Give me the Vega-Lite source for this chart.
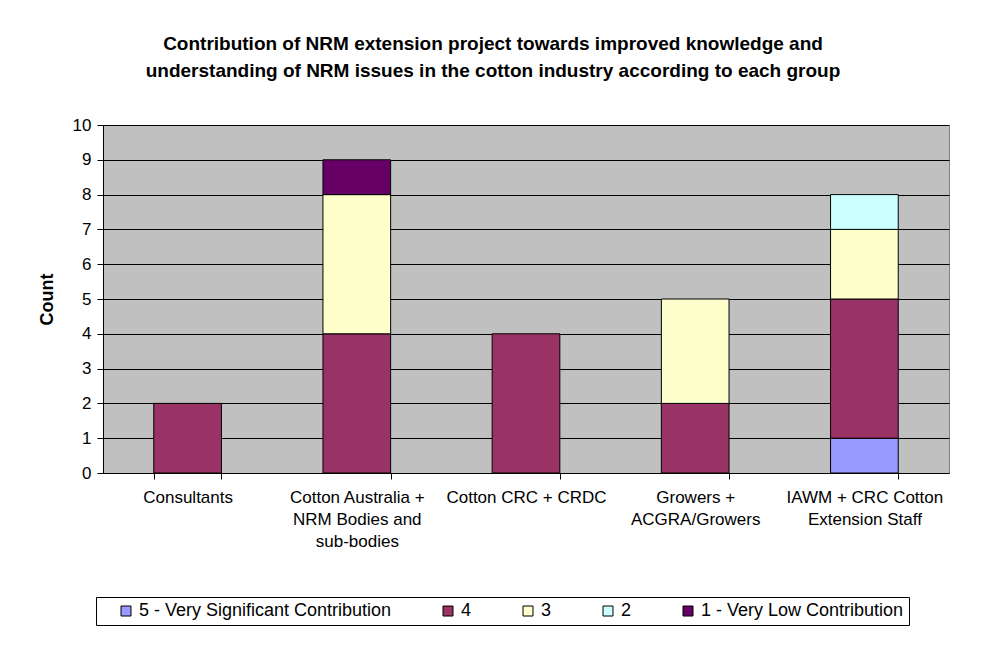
{
  "$schema": "https://vega.github.io/schema/vega-lite/v6.json",
  "autosize": {"type": "none"},
  "width": 846,
  "height": 348,
  "padding": {"left": 103, "top": 125, "right": 32, "bottom": 180},
  "background": "white",
  "title": {
    "text": ["Contribution of NRM extension project towards improved knowledge and", "understanding of NRM issues in the cotton industry according to each group"],
    "font": "Liberation Sans",
    "fontSize": 19,
    "fontWeight": "bold",
    "color": "black",
    "anchor": "middle",
    "dx": -33,
    "offset": 35,
    "lineHeight": 27
  },
  "data": {
    "values": [
      {"group": "Consultants", "level": "4", "score": 4, "count": 2},
      {"group": "Cotton Australia + NRM Bodies and sub-bodies", "level": "4", "score": 4, "count": 4},
      {"group": "Cotton Australia + NRM Bodies and sub-bodies", "level": "3", "score": 3, "count": 4},
      {"group": "Cotton Australia + NRM Bodies and sub-bodies", "level": "1 - Very Low Contribution", "score": 1, "count": 1},
      {"group": "Cotton CRC + CRDC", "level": "4", "score": 4, "count": 4},
      {"group": "Growers + ACGRA/Growers", "level": "4", "score": 4, "count": 2},
      {"group": "Growers + ACGRA/Growers", "level": "3", "score": 3, "count": 3},
      {"group": "IAWM + CRC Cotton Extension Staff", "level": "5 - Very Significant Contribution", "score": 5, "count": 1},
      {"group": "IAWM + CRC Cotton Extension Staff", "level": "4", "score": 4, "count": 4},
      {"group": "IAWM + CRC Cotton Extension Staff", "level": "3", "score": 3, "count": 2},
      {"group": "IAWM + CRC Cotton Extension Staff", "level": "2", "score": 2, "count": 1}
    ]
  },
  "mark": {"type": "bar", "stroke": "black", "strokeWidth": 1},
  "encoding": {
    "x": {
      "field": "group",
      "type": "nominal",
      "sort": ["Consultants", "Cotton Australia + NRM Bodies and sub-bodies", "Cotton CRC + CRDC", "Growers + ACGRA/Growers", "IAWM + CRC Cotton Extension Staff"],
      "scale": {"paddingInner": 0.6, "paddingOuter": 0.3},
      "axis": {
        "title": null,
        "labelAngle": 0,
        "labelFont": "Liberation Sans",
        "labelFontSize": 17,
        "labelColor": "black",
        "labelPadding": 10,
        "labelLineHeight": 22,
        "labelLimit": 0,
        "tickBand": "extent",
        "tickColor": "black",
        "tickSize": 6,
        "domainColor": "black",
        "labelExpr": "datum.label == 'Cotton Australia + NRM Bodies and sub-bodies' ? ['Cotton Australia +', 'NRM Bodies and', 'sub-bodies'] : datum.label == 'Growers + ACGRA/Growers' ? ['Growers +', 'ACGRA/Growers'] : datum.label == 'IAWM + CRC Cotton Extension Staff' ? ['IAWM + CRC Cotton', 'Extension Staff'] : datum.label"
      }
    },
    "y": {
      "field": "count",
      "type": "quantitative",
      "stack": "zero",
      "scale": {"domain": [0, 10], "nice": false},
      "axis": {
        "title": "Count",
        "titleFont": "Liberation Sans",
        "titleFontSize": 18,
        "titleFontWeight": "bold",
        "titleColor": "black",
        "titlePadding": 16,
        "values": [0, 1, 2, 3, 4, 5, 6, 7, 8, 9, 10],
        "labelFont": "Liberation Sans",
        "labelFontSize": 17,
        "labelColor": "black",
        "labelPadding": 6,
        "tickColor": "black",
        "tickSize": 6,
        "domainColor": "black",
        "grid": true,
        "gridColor": "black",
        "gridOpacity": 1,
        "gridWidth": 1
      }
    },
    "color": {
      "field": "level",
      "type": "nominal",
      "scale": {
        "domain": ["5 - Very Significant Contribution", "4", "3", "2", "1 - Very Low Contribution"],
        "range": ["#9999FF", "#993366", "#FFFFCC", "#CCFFFF", "#660066"]
      },
      "legend": {
        "title": "\u00a0",
        "titleOrient": "left",
        "titlePadding": 16,
        "titleFontSize": 17,
        "orient": "none",
        "legendX": -7,
        "legendY": 472,
        "direction": "horizontal",
        "columns": 5,
        "columnPadding": 47,
        "padding": 5,
        "strokeColor": "black",
        "fillColor": "white",
        "symbolType": "square",
        "symbolSize": 100,
        "symbolStrokeColor": "black",
        "symbolStrokeWidth": 1,
        "symbolOpacity": 1,
        "labelFont": "Liberation Sans",
        "labelFontSize": 18,
        "labelColor": "black",
        "labelOffset": 4,
        "labelLimit": 0
      }
    },
    "order": {"field": "score", "type": "quantitative", "sort": "descending"}
  },
  "config": {
    "view": {"fill": "#C0C0C0", "stroke": "#808080", "strokeWidth": 1},
    "font": "Liberation Sans"
  }
}
